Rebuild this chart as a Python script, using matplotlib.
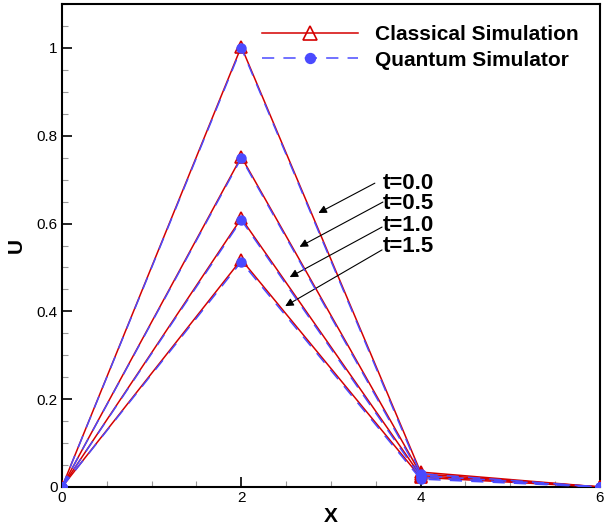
import numpy as np
import matplotlib
matplotlib.use('Agg')
import matplotlib.pyplot as plt
from matplotlib.ticker import MultipleLocator, FuncFormatter

plt.rcParams['font.family'] = ['Liberation Sans', 'DejaVu Sans']

x = [0, 2, 4, 6]
times = ['t=0.0', 't=0.5', 't=1.0', 't=1.5']

# classical simulation, one list per time
classical = [
    [0.0, 1.003, 0.034, 0.0],
    [0.0, 0.752, 0.030, 0.0],
    [0.0, 0.612, 0.026, 0.0],
    [0.0, 0.518, 0.022, 0.0],
]
# quantum simulator
quantum = [
    [0.0, 1.000, 0.030, 0.0],
    [0.0, 0.749, 0.026, 0.0],
    [0.0, 0.608, 0.022, 0.0],
    [0.0, 0.513, 0.018, 0.0],
]

# arrow tails / heads in data coords
arrow_tail = [(3.49, 0.692), (3.58, 0.649), (3.57, 0.592), (3.57, 0.540)]
arrow_head = [(2.86, 0.624), (2.65, 0.547), (2.54, 0.478), (2.49, 0.412)]
label_pos = [(3.58, 0.692), (3.58, 0.645), (3.58, 0.595), (3.58, 0.547)]

red = '#D40000'
blue = '#4A4AFF'

fig = plt.figure(figsize=(6.05, 5.29), dpi=100)
ax = fig.add_axes([0.1025, 0.0794, 0.889, 0.913])

for i in range(len(times)):
    ax.plot(x, classical[i], color=red, lw=1.1, marker='^', ms=9,
            mfc='none', mec=red, mew=1.2,
            label='Classical Simulation' if i == 0 else None, zorder=3)
for i in range(len(times)):
    ax.plot(x, quantum[i], color=blue, lw=1.1, ls=(0, (8, 6)), marker='o',
            ms=6.5, mfc=blue, mec=blue,
            label='Quantum Simulator' if i == 0 else None, zorder=4)

for i in range(len(times)):
    ax.annotate('', xy=arrow_head[i], xytext=arrow_tail[i],
                arrowprops=dict(arrowstyle='-|>', color='black', lw=0.8,
                                mutation_scale=12, shrinkA=0, shrinkB=0))
    ax.text(label_pos[i][0], label_pos[i][1], times[i], fontsize=16,
            fontweight='bold', va='center', ha='left')

ax.set_xlim(0, 6)
ax.set_ylim(0, 1.1)
ax.xaxis.set_major_locator(MultipleLocator(2))
ax.xaxis.set_minor_locator(MultipleLocator(0.5))
ax.yaxis.set_major_locator(MultipleLocator(0.2))
ax.yaxis.set_minor_locator(MultipleLocator(0.05))
ax.yaxis.set_major_formatter(FuncFormatter(lambda v, p: '%g' % round(v, 2)))
ax.tick_params(which='major', direction='in', length=7, width=1.2,
               labelsize=11, pad=3)
ax.tick_params(which='minor', direction='in', length=4.5, width=0.8,
               color='#999999')
for s in ax.spines.values():
    s.set_linewidth(1.5)

ax.set_xlabel('X', fontsize=15, fontweight='bold', labelpad=1)
ax.set_ylabel('U', fontsize=15, fontweight='bold', labelpad=8)

ax.legend(loc='upper right', bbox_to_anchor=(1.0, 1.0), frameon=False,
          handlelength=4.6, handletextpad=0.85, labelspacing=0.32,
          prop={'weight': 'bold', 'size': 15}, borderaxespad=0.6,
          markerscale=1.1)

fig.savefig('out.png', dpi=100)
